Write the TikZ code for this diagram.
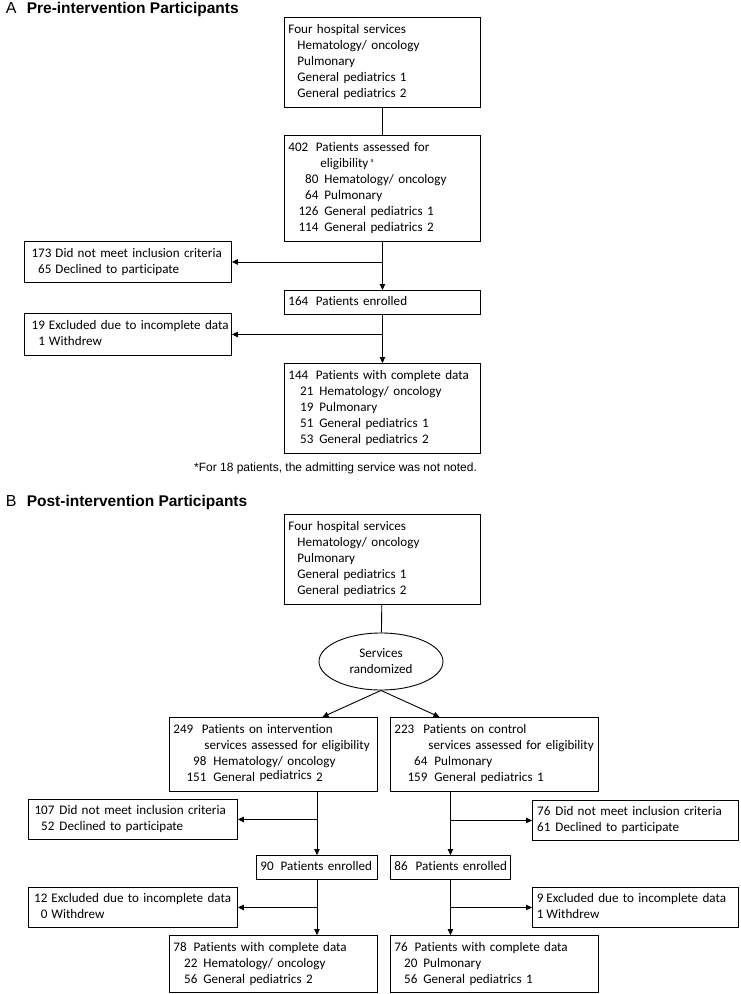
\documentclass[tikz,border=0pt]{standalone}
\usepackage{fontspec}
\setmainfont{Carlito}[Ligatures=NoCommon]
\newfontfamily\arialfont{Liberation Sans}
\usetikzlibrary{arrows.meta,shapes.geometric}

% left-aligned lines that never break
\newcommand{\boxtext}[1]{\begin{tabular}{@{}l@{}}#1\end{tabular}}
% number set flush right in a column, then a gap
\newcommand{\numcol}[3]{\makebox[#1][r]{#2}\hspace{#3}}

\begin{document}
\begin{tikzpicture}[x=1pt, y=-1pt, line width=0.9pt,
  >={Triangle[length=6pt,width=5.5pt]},
  box/.style={draw, anchor=north west, inner xsep=4pt, inner ysep=0pt, align=left,
    font=\fontsize{13.1}{16}\selectfont},
  title/.style={anchor=base west, font=\arialfont\bfseries\fontsize{15.5}{18}\selectfont},
  panel/.style={anchor=base west, font=\arialfont\fontsize{16}{18}\selectfont}]
\useasboundingbox (0,0) rectangle (740,994);

% Panel A
\node[panel] (labA) at (2,13) {A};
\node[title] (titA) at (23,13) {Pre-intervention Participants};

\node[box, text width=188pt, minimum height=90pt] (a1) at (284,17) {\boxtext{Four hospital services\\
  \hspace{9pt}Hematology/ oncology\\ \hspace{9pt}Pulmonary\\
  \hspace{9pt}General pediatrics 1\\ \hspace{9pt}General pediatrics 2}};

\node[box, text width=188pt, minimum height=106pt] (a2) at (284,135) {\boxtext{402\hspace{7.5pt}Patients assessed for\\
  \hspace{32pt}eligibility\,\raisebox{5pt}{\fontsize{6}{6}\selectfont a}\\
  \numcol{30pt}{80}{6pt}Hematology/ oncology\\
  \numcol{30pt}{64}{6pt}Pulmonary\\
  \numcol{30pt}{126}{6pt}General pediatrics 1\\
  \numcol{30pt}{114}{6pt}General pediatrics 2}};

\node[box, text width=199pt, minimum height=41pt] (al1) at (24,241) {\boxtext{\numcol{23pt}{173}{4pt}Did not meet inclusion criteria\\
  \numcol{23pt}{65}{4pt}Declined to participate}};

\node[box, text width=188pt, minimum height=24pt] (a3) at (284,290) {\boxtext{164\hspace{7.5pt}Patients enrolled}};

\node[box, text width=199pt, minimum height=42pt] (al2) at (24,313) {\boxtext{\numcol{16.5pt}{19}{4pt}Excluded due to incomplete data\\
  \numcol{16.5pt}{1}{4pt}Withdrew}};

\node[box, text width=188pt, minimum height=90pt] (a4) at (284,363) {\boxtext{144\hspace{7.5pt}Patients with complete data\\
  \numcol{25pt}{21}{6pt}Hematology/ oncology\\
  \numcol{25pt}{19}{6pt}Pulmonary\\
  \numcol{25pt}{51}{6pt}General pediatrics 1\\
  \numcol{25pt}{53}{6pt}General pediatrics 2}};

\node[anchor=base, font=\arialfont\fontsize{12}{14}\selectfont] (note) at (335.5,471) {*For 18 patients, the admitting service was not noted.};

\draw (a1) -- (a2);
\draw[->] (a2) -- (a3);
\draw[->] (al1 -| a2) -- (al1);
\draw[->] (a3) -- (a4);
\draw[->] (al2 -| a3) -- (al2);

% Panel B
\node[panel] (labB) at (2,506) {B};
\node[title] (titB) at (23,506) {Post-intervention Participants};

\node[box, text width=188pt, minimum height=90pt] (b1) at (284,514) {\boxtext{Four hospital services\\
  \hspace{9pt}Hematology/ oncology\\ \hspace{9pt}Pulmonary\\
  \hspace{9pt}General pediatrics 1\\ \hspace{9pt}General pediatrics 2}};

\node[draw, ellipse, minimum width=124pt, minimum height=57pt, inner sep=0pt, align=center,
  font=\fontsize{13.1}{16}\selectfont] (rand) at (381,661.5) {Services\\randomized};

\node[box, text width=200pt, minimum height=74pt] (bi) at (169,717) {\boxtext{249\hspace{8.5pt}Patients on intervention\\
  \hspace{31pt}services assessed for eligibility\\
  \numcol{33pt}{98}{7pt}Hematology/ oncology\\
  \numcol{33pt}{151}{7pt}General \raisebox{2.5pt}{pediatrics} 2}};

\node[box, text width=200pt, minimum height=74pt] (bc) at (390,717) {\boxtext{223\hspace{9pt}Patients on control\\
  \hspace{34pt}services assessed for eligibility\\
  \numcol{33pt}{64}{7pt}Pulmonary\\
  \numcol{33pt}{159}{7pt}General pediatrics 1}};

\node[box, text width=201pt, minimum height=40pt] (bl1) at (28,799) {\boxtext{\numcol{22pt}{107}{5pt}Did not meet inclusion criteria\\
  \numcol{22pt}{52}{5pt}Declined to participate}};
\node[box, text width=198pt, minimum height=40pt] (br1) at (532,800) {\boxtext{\numcol{14pt}{76}{5pt}Did not meet inclusion criteria\\
  \numcol{14pt}{61}{5pt}Declined to participate}};

\node[box, text width=113pt, minimum height=24pt] (en1) at (256,855) {\boxtext{90\hspace{7pt}Patients enrolled}};
\node[box, text width=112pt, minimum height=24pt] (en2) at (390,855) {\boxtext{86\hspace{8pt}Patients enrolled}};

\node[box, text width=201pt, minimum height=40pt] (bl2) at (28,887) {\boxtext{\numcol{15pt}{12}{4pt}Excluded due to incomplete data\\
  \numcol{15pt}{0}{4pt}Withdrew}};
\node[box, text width=198pt, minimum height=40pt] (br2) at (532,887) {\boxtext{\numcol{7pt}{9}{3pt}Excluded due to incomplete data\\
  \numcol{7pt}{1}{3pt}Withdrew}};

\node[box, text width=200pt, minimum height=57pt] (cd1) at (169,935) {\boxtext{78\hspace{7pt}Patients with complete data\\
  \numcol{24pt}{22}{6pt}Hematology/ oncology\\
  \numcol{24pt}{56}{6pt}General pediatrics 2}};
\node[box, text width=200pt, minimum height=57pt] (cd2) at (390,935) {\boxtext{76\hspace{7pt}Patients with complete data\\
  \numcol{23pt}{20}{6pt}Pulmonary\\
  \numcol{23pt}{56}{6pt}General pediatrics 1}};

\draw (b1) -- (rand);
\draw[->] (rand.south) -- ([xshift=49pt]bi.north);
\draw[->] (rand.south) -- ([xshift=-55pt]bc.north);
\draw[->] (bi.south -| en1) -- (en1);
\draw[->] (bl1 -| en1) -- (bl1);
\draw[->] (bc.south -| en2) -- (en2);
\draw[->] (br1 -| en2) -- (br1);
\draw[->] (en1) -- (en1 |- cd1.north);
\draw[->] (bl2 -| en1) -- (bl2);
\draw[->] (en2) -- (en2 |- cd2.north);
\draw[->] (br2 -| en2) -- (br2);
\end{tikzpicture}
\end{document}
